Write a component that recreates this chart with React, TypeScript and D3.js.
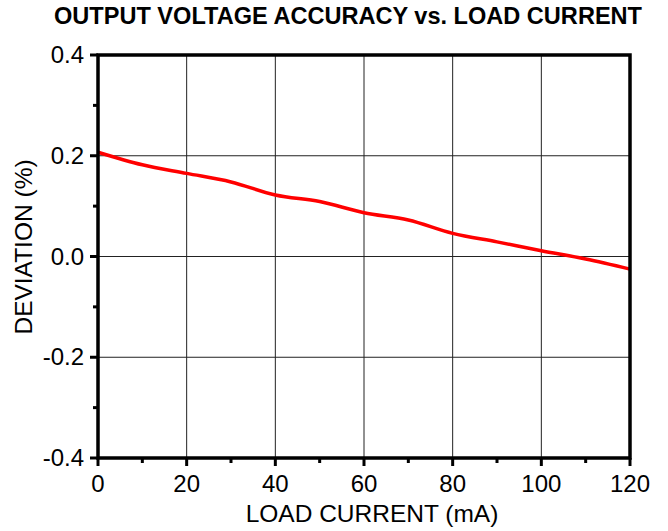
import React from "react";
import * as d3 from "d3";

const loadCurrent = [0, 10, 20, 30, 40, 50, 60, 70, 80, 90, 100, 110, 120];
const deviation = [0.207, 0.182, 0.165, 0.148, 0.122, 0.109, 0.087, 0.0725, 0.046, 0.029, 0.0115, -0.005, -0.025];
const xTicks = [0, 20, 40, 60, 80, 100, 120];
const xMinor = [10, 30, 50, 70, 90, 110];
const yTicks = [0.4, 0.2, 0.0, -0.2, -0.4];
const yMinor = [0.3, 0.1, -0.1, -0.3];
const title = "OUTPUT VOLTAGE ACCURACY vs. LOAD CURRENT";
const xLabel = "LOAD CURRENT (mA)";
const yLabel = "DEVIATION (%)";

export default function App() {
  const W = 668, H = 531;
  const left = 98, right = 630, top = 55, bottom = 458;
  const x = d3.scaleLinear().domain([0, 120]).range([left, right]);
  const y = d3.scaleLinear().domain([-0.4, 0.4]).range([bottom, top]);
  const line = d3.line<number>().x((_, i) => x(loadCurrent[i])).y((d) => y(d)).curve(d3.curveMonotoneX);
  const font = "'Liberation Sans', Arial, sans-serif";
  return (
    <svg width={W} height={H} style={{ position: "absolute", left: 0, top: 0 }}>
      <rect width={W} height={H} fill="#fff" />
      <text x={54} y={24} textAnchor="start" fontFamily={font} fontWeight="bold" fontSize={23.4} textLength={588} lengthAdjust="spacingAndGlyphs">{title}</text>
      {xTicks.slice(1, -1).map((t) => (
        <line key={"gx" + t} x1={x(t)} x2={x(t)} y1={top} y2={bottom} stroke="#222" strokeWidth={1} />
      ))}
      {yTicks.slice(1, -1).map((t) => (
        <line key={"gy" + t} x1={left} x2={right} y1={y(t)} y2={y(t)} stroke="#222" strokeWidth={1} />
      ))}
      <path d={line(deviation) || ""} fill="none" stroke="#ff0000" strokeWidth={3.5} />
      <rect x={left} y={top} width={right - left} height={bottom - top} fill="none" stroke="#000" strokeWidth={3.5} />
      {xTicks.map((t) => (
        <line key={"tx" + t} x1={x(t)} x2={x(t)} y1={bottom} y2={bottom + 8} stroke="#000" strokeWidth={3} />
      ))}
      {xMinor.map((t) => (
        <line key={"mx" + t} x1={x(t)} x2={x(t)} y1={bottom} y2={bottom + 5} stroke="#000" strokeWidth={3} />
      ))}
      {yTicks.map((t) => (
        <line key={"ty" + t} x1={left - 8} x2={left} y1={y(t)} y2={y(t)} stroke="#000" strokeWidth={3} />
      ))}
      {yMinor.map((t) => (
        <line key={"my" + t} x1={left - 5} x2={left} y1={y(t)} y2={y(t)} stroke="#000" strokeWidth={3} />
      ))}
      {xTicks.map((t) => (
        <text key={"lx" + t} x={x(t)} y={492} textAnchor="middle" fontFamily={font} fontSize={24}>{t}</text>
      ))}
      {yTicks.map((t) => (
        <text key={"ly" + t} x={84} y={y(t) + 8} textAnchor="end" fontFamily={font} fontSize={24}>{t.toFixed(1)}</text>
      ))}
      <text x={372} y={522} textAnchor="middle" fontFamily={font} fontSize={24.5}>{xLabel}</text>
      <text transform={`translate(32,247) rotate(-90)`} textAnchor="middle" fontFamily={font} fontSize={24.5}>{yLabel}</text>
    </svg>
  );
}
